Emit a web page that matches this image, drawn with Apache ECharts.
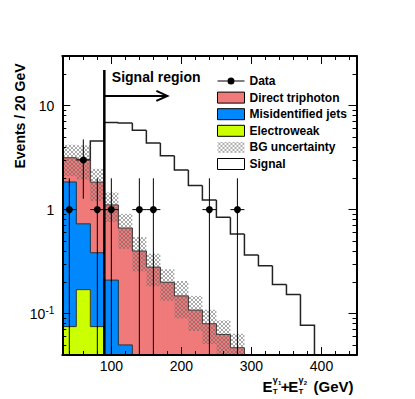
<!DOCTYPE html>
<html>
<head>
<meta charset="utf-8">
<script src="https://cdn.jsdelivr.net/npm/echarts@6/dist/echarts.min.js"></script>
<style>
html,body{margin:0;padding:0;background:#fff;}
#chart{width:415px;height:399px;}
</style>
</head>
<body>
<div id="chart"></div>
<script>
// 20 GeV bins
var binEdges = [30, 50, 70, 90, 110, 130, 150, 170, 190, 210, 230, 250, 270, 290, 310, 330, 350, 370, 390];
// background components (events per bin)
var electroweak = [0.075, 0.17, 0.075];
var misidJets = [1.77, 0.56, 0.31, 0.21, 0.05];
var directTriphoton = [1.31, 2.32, 1.45, 0.90, 0.615, 0.40, 0.28, 0.20, 0.148, 0.108, 0.080, 0.063, 0.047];
var bgUncert = [1.05, 1.10, 0.63, 0.35, 0.245, 0.145, 0.097, 0.067, 0.058, 0.040, 0.029, 0.023, 0.017];
// signal, starts at the 70-90 bin
var signal = [0, 0, 4.57, 6.88, 6.8, 5.8, 4.37, 3.3, 2.4, 1.71, 1.24, 0.843, 0.582, 0.367, 0.288, 0.191, 0.153, 0.0774];
// data points
var dataX = [40, 60, 80, 100, 140, 160, 240, 280];
var dataY = [1, 3, 1, 1, 1, 1, 1, 1];
var dataErr = [1, 1.73, 1, 1, 1, 1, 1, 1];
// signal region annotation
var regionCut = 90, regionLineTop = 22, arrowLevel = 12.4, arrowEnd = 180;
// axes
var xMin = 30, xMax = 450, yMin = 0.04, yMax = 30;
var xTicksMajor = [100, 200, 300, 400];
var xTicksMinor = [40, 60, 80, 120, 140, 160, 180, 220, 240, 260, 280, 320, 340, 360, 380, 420, 440];
var yTicksMajor = [0.1, 1, 10];
var yTicksMinor = [0.05, 0.06, 0.07, 0.08, 0.09, 0.2, 0.3, 0.4, 0.5, 0.6, 0.7, 0.8, 0.9, 2, 3, 4, 5, 6, 7, 8, 9, 20, 30];

var FONT = '"Liberation Sans", Arial, Helvetica, sans-serif';
var RED = '#f07a7a', BLUE = '#0088ff', YELLOW = '#ccff00';

//交叉阴影
var hatch = document.createElement('canvas');
hatch.width = 4; hatch.height = 4;
var hc = hatch.getContext('2d');
hc.strokeStyle = 'rgba(100,100,100,0.55)';
hc.lineWidth = 1;
hc.beginPath();
hc.moveTo(0, 0); hc.lineTo(4, 4);
hc.moveTo(4, 0); hc.lineTo(0, 4);
hc.stroke();
var hatchFill = {image: hatch, repeat: 'repeat'};

// stacked tops
var ewTop = [], jetsTop = [], totTop = [];
for (var i = 0; i < directTriphoton.length; i++) {
    var ew = electroweak[i] || 0, mj = misidJets[i] || 0;
    ewTop.push(ew);
    jetsTop.push(mj > 0 ? ew + mj : 0);
    totTop.push(ew + mj + directTriphoton[i]);
}

var histSeries = function(name, tops, fill, stroke, lw, z){
    var data = [];
    for (var i = 0; i < tops.length; i++) {
        if (tops[i] > 0) {
            data.push([binEdges[i], binEdges[i + 1], tops[i], tops[i - 1] > 0 ? tops[i - 1] : yMin, tops[i + 1] > 0 ? 1 : 0]);
        }
    }
    return {
        type: 'custom', name: name, z: z, clip: true, silent: true,
        itemStyle: {color: fill},
        encode: {x: [0, 1], y: 2},
        data: data,
        renderItem: function(params, api){
            var a = api.coord([api.value(0), api.value(2)]);
            var b = api.coord([api.value(1), yMin]);
            var p = api.coord([api.value(0), api.value(3)]);
            var pts = [[a[0], p[1]], [a[0], a[1]], [b[0], a[1]]];
            var last = !api.value(4);
            if (last) pts.push([b[0], b[1]]);
            return {type: 'group', children: [
                {type: 'rect', shape: {x: a[0], y: a[1], width: b[0] - a[0] + (last ? 0 : 0.6), height: b[1] - a[1]}, style: {fill: fill}},
                {type: 'polyline', shape: {points: pts}, style: {stroke: stroke, lineWidth: lw, fill: null}}
            ]};
        }
    };
};

var bandData = totTop.map(function(v, i){ return [binEdges[i], binEdges[i + 1], v, bgUncert[i]]; });
var pointData = dataX.map(function(x, i){ return [x, dataY[i], dataErr[i]]; });

var dataIcon = 'path://M0,0h0.01v0.01h-0.01z M26.99,10.99h0.01v0.01h-0.01z M0,5h10v1h-10z M17,5h10v1h-10z M10,5.5a3.5,3.5 0 1,0 7,0a3.5,3.5 0 1,0 -7,0z';

var mkX = function(pos, ticks, len, labels){
    return {
        type: 'value', min: xMin, max: xMax, position: pos, z: 10,
        axisLine: {show: labels, lineStyle: {color: '#000', width: 2}},
        axisTick: {show: true, inside: true, length: len, customValues: ticks, lineStyle: {color: '#000', width: 1}},
        axisLabel: {show: labels && pos === 'bottom', customValues: ticks, margin: 4, color: '#000', fontSize: 14, fontFamily: FONT},
        splitLine: {show: false}
    };
};
var mkY = function(pos, ticks, len, labels){
    return {
        type: 'log', logBase: 10, min: yMin, max: yMax, position: pos, z: 10,
        axisLine: {show: labels, lineStyle: {color: '#000', width: 2}},
        axisTick: {show: true, inside: true, length: len, customValues: ticks, lineStyle: {color: '#000', width: 1}},
        axisLabel: {
            show: labels && pos === 'left', customValues: ticks, margin: 8, color: '#000', fontSize: 14, fontFamily: FONT, lineHeight: 16,
            formatter: function(v){
                if (Math.abs(v - 0.1) < 1e-9) return '10{sup|-1}';
                return String(Math.round(v));
            },
            rich: {sup: {fontSize: 10, lineHeight: 10, verticalAlign: 'top', fontFamily: FONT, color: '#000'}}
        },
        splitLine: {show: false}
    };
};

var txt = function(s, x, y, size){
    return {type: 'text', x: x, y: y, style: {text: s, font: 'bold ' + size + 'px ' + FONT, fill: '#000', verticalAlign: 'middle'}};
};

var chart = echarts.init(document.getElementById('chart'), null, {renderer: 'svg'});
chart.setOption({
    animation: false,
    backgroundColor: '#fff',
    grid: {left: 62.3, right: 58.5, top: 56, bottom: 44, outerBoundsMode: 'none'},
    xAxis: [
        mkX('bottom', xTicksMajor, 8, true),
        mkX('bottom', xTicksMinor, 4, false),
        mkX('top', xTicksMajor, 8, true),
        mkX('top', xTicksMinor, 4, false)
    ],
    yAxis: [
        mkY('left', yTicksMajor, 8, true),
        mkY('left', yTicksMinor, 4, false),
        mkY('right', yTicksMajor, 8, true),
        mkY('right', yTicksMinor, 4, false)
    ],
    legend: {
        orient: 'vertical', left: 217, top: 75, padding: 0,
        itemWidth: 27, itemHeight: 11, itemGap: 4.6, selectedMode: false,
        textStyle: {color: '#000', fontWeight: 'bold', fontSize: 12, fontFamily: FONT, lineHeight: 11},
        data: [
            {name: 'Data', icon: dataIcon, itemStyle: {color: '#000', borderWidth: 0}},
            {name: 'Direct triphoton', icon: 'rect', itemStyle: {color: RED, borderColor: '#000', borderWidth: 1}},
            {name: 'Misidentified jets', icon: 'rect', itemStyle: {color: BLUE, borderColor: '#000', borderWidth: 1}},
            {name: 'Electroweak', icon: 'rect', itemStyle: {color: YELLOW, borderColor: '#000', borderWidth: 1}},
            {name: 'BG uncertainty', icon: 'rect', itemStyle: {color: hatchFill, borderWidth: 0}},
            {name: 'Signal', icon: 'rect', itemStyle: {color: '#fff', borderColor: '#000', borderWidth: 1}}
        ]
    },
    graphic: [
        {type: 'text', x: 20, y: 116, rotation: Math.PI / 2,
         style: {text: 'Events / 20 GeV', font: 'bold 14px ' + FONT, fill: '#000', align: 'center', verticalAlign: 'middle'}},
        txt('E', 262.5, 386.5, 15),
        txt('T', 272.8, 391.5, 8),
        txt('γ', 272.8, 379.5, 9),
        txt('1', 278, 382.5, 6),
        txt('+', 280.8, 386.5, 15),
        txt('E', 288.2, 386.5, 15),
        txt('T', 298.6, 391.5, 8),
        txt('γ', 298.6, 379.5, 9),
        txt('2', 303.8, 382.5, 6),
        txt('(GeV)', 313.5, 386.5, 15)
    ],
    series: [
        histSeries('Signal', signal, '#fff', '#222', 1.5, 1),
        histSeries('Direct triphoton', totTop, RED, '#333', 1, 2),
        histSeries('Misidentified jets', jetsTop, BLUE, '#333', 1, 3),
        histSeries('Electroweak', ewTop, YELLOW, '#333', 1, 4),
        {
            type: 'custom', name: 'BG uncertainty', z: 5, clip: true, silent: true,
            itemStyle: {color: hatchFill},
            encode: {x: [0, 1], y: 2},
            data: bandData,
            renderItem: function(params, api){
                var v = api.value(2), e = api.value(3);
                var a = api.coord([api.value(0), v + e]);
                var b = api.coord([api.value(1), Math.max(v - e, yMin)]);
                return {type: 'rect', shape: {x: a[0], y: a[1], width: b[0] - a[0], height: b[1] - a[1]}, style: {fill: hatchFill}};
            }
        },
        {
            type: 'custom', name: 'Data', z: 6, clip: true, silent: true,
            itemStyle: {color: '#000'},
            encode: {x: 0, y: 1},
            data: pointData,
            renderItem: function(params, api){
                var x = api.value(0), y = api.value(1), e = api.value(2);
                var c = api.coord([x, y]);
                var l = api.coord([x - 10, y]), r = api.coord([x + 10, y]);
                var t = api.coord([x, y + e]), d = api.coord([x, Math.max(y - e, yMin)]);
                return {type: 'group', children: [
                    {type: 'line', shape: {x1: l[0], y1: l[1], x2: r[0], y2: r[1]}, style: {stroke: '#000', lineWidth: 1}},
                    {type: 'line', shape: {x1: t[0], y1: t[1], x2: d[0], y2: d[1]}, style: {stroke: '#000', lineWidth: 1}},
                    {type: 'circle', shape: {cx: c[0], cy: c[1], r: 3.5}, style: {fill: '#000'}}
                ]};
            }
        },
        {
            type: 'custom', name: 'region', z: 7, clip: false, silent: true,
            encode: {x: 0, y: 1},
            data: [[regionCut, arrowLevel]],
            renderItem: function(params, api){
                var base = api.coord([regionCut, yMin]);
                var top = api.coord([regionCut, regionLineTop]);
                var a0 = api.coord([regionCut, arrowLevel]);
                var a1 = api.coord([arrowEnd, arrowLevel]);
                return {type: 'group', children: [
                    {type: 'line', shape: {x1: base[0], y1: base[1], x2: top[0], y2: top[1]}, style: {stroke: '#000', lineWidth: 2.5}},
                    {type: 'line', shape: {x1: a0[0], y1: a0[1], x2: a1[0] - 1, y2: a1[1]}, style: {stroke: '#000', lineWidth: 2}},
                    {type: 'polyline', shape: {points: [[a1[0] - 11, a1[1] - 5], [a1[0], a1[1]], [a1[0] - 11, a1[1] + 5]]}, style: {stroke: '#000', lineWidth: 2, fill: null}},
                    {type: 'text', x: top[0] + 7.5, y: top[1] + 7, style: {text: 'Signal region', font: 'bold 14px ' + FONT, fill: '#000', verticalAlign: 'middle'}}
                ]};
            }
        }
    ]
});
</script>
</body>
</html>
